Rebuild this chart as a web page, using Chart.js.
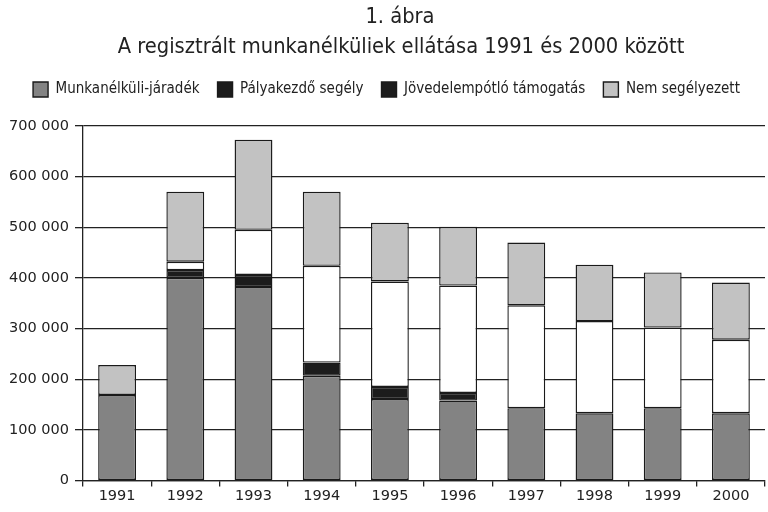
<!DOCTYPE html>
<html>
<head>
<meta charset="utf-8">
<script src="https://cdn.jsdelivr.net/npm/chart.js@4.4.1/dist/chart.umd.min.js"></script>
<style>
  html, body { margin: 0; padding: 0; background: #fff; }
  #wrap { width: 768px; height: 512px; }
</style>
</head>
<body>
<div id="wrap"><canvas id="c" width="768" height="512"></canvas></div>
<script>
const categories = ['1991','1992','1993','1994','1995','1996','1997','1998','1999','2000'];
const munkanelkuliJaradek   = [169000, 400000, 382000, 207000, 161000, 158000, 143000, 133000, 143000, 133000];
const palyakezdoSegely      = [0, 15500, 24000, 26000, 24000, 15000, 0, 0, 0, 0];
const jovedelempotloTamogatas = [0, 16500, 89000, 191000, 208000, 212000, 203000, 182000, 159000, 145000];
const nemSegelyezett        = [59000, 138000, 178000, 146000, 116000, 116000, 124000, 111000, 109000, 113000];
const yTickLabels = ['0','100 000','200 000','300 000','400 000','500 000','600 000','700 000'];
const titleLines = ['1. ábra', 'A regisztrált munkanélküliek ellátása 1991 és 2000 között'];
const seriesNames = ['Munkanélküli-járadék', 'Pályakezdő segély', 'Jövedelempótló támogatás', 'Nem segélyezett'];

const condensed = "'Liberation Sans Narrow', 'DejaVu Sans Condensed', 'Liberation Sans', sans-serif";
const border = '#1a1a1a';

function ds(label, data, color) {
  return {
    label: label, data: data, backgroundColor: color,
    borderColor: border,
    borderWidth: function(ctx) { return ctx.raw ? 1.4 : 0; },
    borderSkipped: false,
    barPercentage: 0.555, categoryPercentage: 1.0
  };
}

const legendSpacer = {
  id: 'legendSpacer',
  beforeInit: function(chart) {
    const orig = chart.legend.fit;
    chart.legend.fit = function() { orig.call(this); this.height += 19; };
  }
};

const titleText = {
  id: 'titleText',
  afterDraw: function(chart) {
    const ctx = chart.ctx;
    ctx.save();
    ctx.fillStyle = '#222';
    ctx.textAlign = 'center';
    ctx.textBaseline = 'middle';
    ctx.font = "normal 21.7px " + condensed;
    ctx.fillText(titleLines[0], 400, 17);
    ctx.fillText(titleLines[1], 401, 47);
    ctx.restore();
  }
};

new Chart(document.getElementById('c'), {
  type: 'bar',
  data: {
    labels: categories,
    datasets: [
      ds(seriesNames[0], munkanelkuliJaradek, '#838383'),
      ds(seriesNames[1], palyakezdoSegely, '#1c1c1c'),
      ds(seriesNames[2], jovedelempotloTamogatas, '#ffffff'),
      ds(seriesNames[3], nemSegelyezett, '#c2c2c2')
    ]
  },
  plugins: [legendSpacer, titleText],
  options: {
    responsive: false,
    animation: false,
    devicePixelRatio: 1,
    layout: { padding: { left: 8, right: 3, top: 64, bottom: 6 } },
    plugins: {
      title: { display: false },
      legend: {
        display: true,
        labels: {
          color: '#222',
          font: { family: condensed, size: 15 },
          boxWidth: 15, boxHeight: 15, padding: 18,
          generateLabels: function(chart) {
            const items = Chart.defaults.plugins.legend.labels.generateLabels(chart);
            items.forEach(function(it, i) {
              if (i === 2) it.fillStyle = '#1c1c1c';
              it.lineWidth = 1.4;
              it.strokeStyle = border;
            });
            return items;
          }
        }
      },
      tooltip: { enabled: false }
    },
    scales: {
      x: {
        stacked: true,
        grid: { display: true, drawOnChartArea: false, drawTicks: true, tickLength: 6, color: '#222', lineWidth: 1.3, offset: true },
        border: { display: true, color: '#222', width: 1.3 },
        ticks: { color: '#222', font: { family: "'DejaVu Sans', sans-serif", size: 14.5 }, padding: 1, maxRotation: 0 }
      },
      y: {
        stacked: true,
        min: 0, max: 700000,
        afterFit: function(scale) { scale.width = 75; },
        grid: { display: true, drawTicks: true, tickLength: 8, color: '#222', lineWidth: 1.3 },
        border: { display: true, color: '#222', width: 1.3 },
        ticks: {
          stepSize: 100000,
          color: '#222',
          font: { family: "'DejaVu Sans', sans-serif", size: 14.5 },
          padding: 6,
          callback: function(v, i) { return yTickLabels[i]; }
        }
      }
    }
  }
});
</script>
</body>
</html>
